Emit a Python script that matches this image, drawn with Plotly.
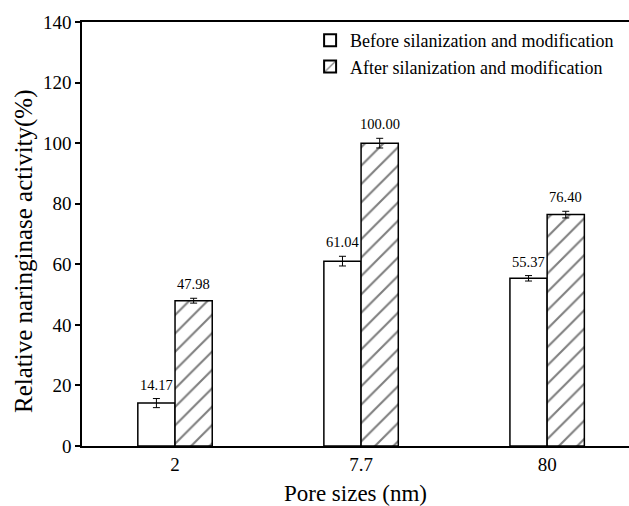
import plotly.graph_objects as go

categories = ["2", "7.7", "80"]
before_vals = [14.17, 61.04, 55.37]
before_err = [1.5, 1.6, 0.9]
after_vals = [47.98, 100.00, 76.40]
after_err = [0.8, 1.6, 1.1]
series_names = ["Before silanization and modification", "After silanization and modification"]
y_ticks = [0, 20, 40, 60, 80, 100, 120, 140]
y_title = "Relative naringinase activity(%)"
x_title = "Pore sizes (nm)"

FONT = "Times New Roman"
x_idx = list(range(len(categories)))
bar_w = 0.2

fig = go.Figure()
fig.add_trace(go.Bar(
    x=x_idx, y=before_vals, name=series_names[0], width=bar_w, offset=-bar_w,
    marker=dict(color="white", line=dict(color="black", width=1.5)),
    error_y=dict(type="data", array=before_err, visible=True, color="black", thickness=1, width=3.5),
))
fig.add_trace(go.Bar(
    x=x_idx, y=after_vals, name=series_names[1], width=bar_w, offset=0,
    marker=dict(color="white", line=dict(color="black", width=1.5),
                pattern=dict(shape="/", fgcolor="black", bgcolor="white", size=13, solidity=0.16)),
    error_y=dict(type="data", array=after_err, visible=True, color="black", thickness=1, width=3.5),
))

annotations = []
for i in x_idx:
    annotations.append(dict(x=i - bar_w / 2, y=before_vals[i] + before_err[i], text=f"{before_vals[i]:.2f}",
                            showarrow=False, yanchor="bottom", yshift=4, xref="x", yref="y",
                            font=dict(family=FONT, size=14.5, color="black")))
    annotations.append(dict(x=i + bar_w / 2, y=after_vals[i] + after_err[i], text=f"{after_vals[i]:.2f}",
                            showarrow=False, yanchor="bottom", yshift=4, xref="x", yref="y",
                            font=dict(family=FONT, size=14.5, color="black")))
# y-axis title (placed as rotated text, slightly below the plot's vertical centre as in the reference)
annotations.append(dict(x=-0.106, y=0.46, xref="paper", yref="paper", text=y_title, textangle=-90,
                        showarrow=False, xanchor="center", yanchor="middle",
                        font=dict(family=FONT, size=25, color="black")))

fig.update_layout(
    width=629, height=506,
    margin=dict(l=82, r=0, t=22, b=60, autoexpand=False),
    plot_bgcolor="white", paper_bgcolor="white",
    font=dict(family=FONT, color="black", size=18),
    barmode="group",
    showlegend=True,
    legend=dict(x=0.417, y=1.0, xanchor="left", yanchor="top", bgcolor="rgba(0,0,0,0)",
                font=dict(family=FONT, size=18, color="black"), tracegroupgap=0, itemsizing="constant"),
    annotations=annotations,
    xaxis=dict(
        range=[-0.5, 2.44], tickmode="array", tickvals=x_idx, ticktext=categories,
        showline=True, linecolor="black", linewidth=1.5, mirror=True, ticks="",
        showgrid=False, zeroline=False, automargin=False,
        tickfont=dict(family=FONT, size=19, color="black"),
        title=dict(text=x_title, font=dict(family=FONT, size=23, color="black")),
    ),
    yaxis=dict(
        range=[0, 140], tickmode="array", tickvals=y_ticks,
        showline=True, linecolor="black", linewidth=1.5, ticks="outside", ticklen=5, tickwidth=1.5,
        tickcolor="black", showgrid=False, zeroline=False, automargin=False,
        tickfont=dict(family=FONT, size=19, color="black"),
    ),
)

fig.write_html("out.html", config={"displayModeBar": False},
               post_script="document.body.style.margin='0';")
